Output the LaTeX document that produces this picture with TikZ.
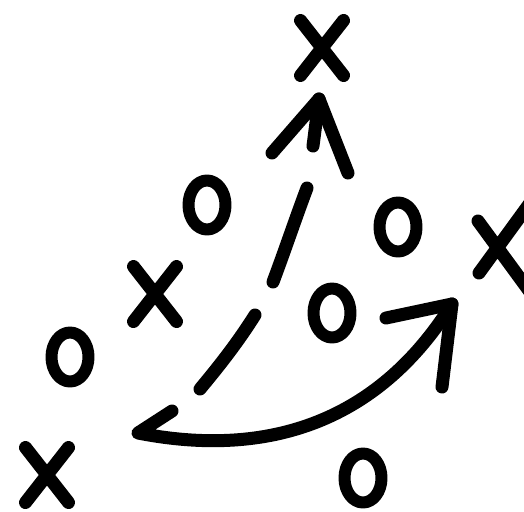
\documentclass[tikz,border=0pt]{standalone}
\begin{document}
\begin{tikzpicture}[x=1pt,y=-1pt,
  ink/.style={line width=13pt,line cap=round,line join=round,black},
  playerx/.pic={\draw[ink] (-21.5,-27.5) -- (21.5,27.5) (21.5,-27.5) -- (-21.5,27.5);},
  playero/.pic={\draw[ink,line width=12pt] (0,0) ellipse [x radius=18.5,y radius=24.5];}]
\useasboundingbox[fill=white] (0,0) rectangle (524,511);
% players
\pic at (322,48) {playerx};
\pic at (155,294) {playerx};
\pic at (47,475) {playerx};
\draw[ink] (478,221) -- (530,292) (479,273) -- (530,203);
\pic at (207,205) {playero};
\pic at (398,227) {playero};
\pic at (332,313) {playero};
\pic at (70,357) {playero};
\pic at (363,478) {playero};
% dashed route upward
\coordinate (d1a) at (307,188);
\coordinate (d1b) at (273,282);
\coordinate (d2a) at (255,315);
\coordinate (d2b) at (200,389);
\draw[ink] (d1a) .. controls (295,220) and (285,250) .. (d1b);
\draw[ink] (d2a) .. controls (238,342) and (220,365) .. (d2b);
% top arrowhead
\coordinate (apex) at (319,99);
\coordinate (la) at (272,153);
\coordinate (ra) at (348,173);
\coordinate (sh) at (313,146);
\draw[ink] (la) -- (apex) -- (ra);
\draw[ink] (apex) -- (sh);
% curved route
\coordinate (ltip) at (138,433);
\coordinate (larm) at (172,411);
\coordinate (rtip) at (452,304);
\coordinate (rarm1) at (386,318);
\coordinate (rarm2) at (442,387);
\draw[ink] (larm) -- (ltip) .. controls (250,455) and (370,435) .. (rtip);
\draw[ink] (rarm1) -- (rtip) -- (rarm2);
\end{tikzpicture}
\end{document}
